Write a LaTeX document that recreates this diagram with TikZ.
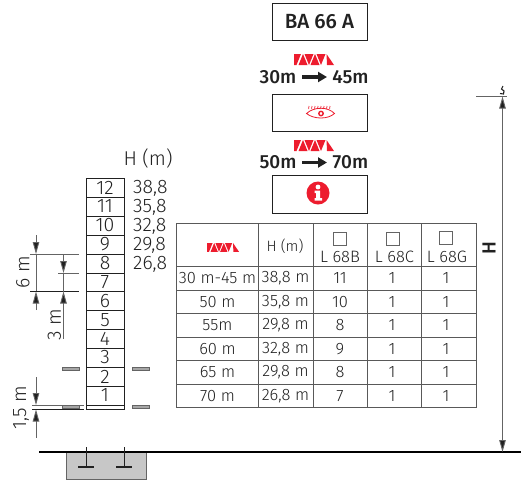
\documentclass[tikz,border=0pt]{standalone}
\usepackage{fontspec}
\setmainfont{Fira Sans Light}[BoldFont={Fira Sans Medium}]
\usetikzlibrary{arrows.meta}
\definecolor{ink}{gray}{0.13}
\definecolor{signred}{RGB}{237,28,46}
\tikzset{
  x=1pt,y=-1pt,
  plate/.style={draw=ink,line width=1pt,fill=white},
  grid/.style={draw=ink!75!white,line width=1pt},
  thin line/.style={draw=ink!70!white,line width=0.8pt},
  dim/.style={draw=ink!70!white,line width=0.9pt,-{Triangle[length=12pt,width=6.5pt,fill=ink]}},
  rung/.style={inner sep=0pt,font=\fontsize{19.5}{20}\selectfont,text=ink},
  cell/.style={inner sep=0pt,font=\fontsize{16.5}{17}\selectfont,text=ink},
  head/.style={inner sep=0pt,font=\fontsize{19}{19}\bfseries\selectfont,text=ink},
  bar/.style={draw=ink!70!white,fill=black!35,line width=0.8pt},
}
\newcommand{\zigzag}[3][1]{%
 \begin{scope}[shift={(#2,#3)},scale=#1]
  \fill[signred] (0,0)--(7,0)--(2.5,11)--(0,11)--cycle;
  \fill[signred] (9,0)--(13.5,11)--(4.5,11)--cycle;
  \fill[signred] (10.5,0)--(19.5,0)--(15,11)--cycle;
  \fill[signred] (21,0)--(25.5,11)--(16.5,11)--cycle;
  \fill[signred] (22.5,0)--(31.5,0)--(27,11)--cycle;
  \fill[signred] (32.5,0)--(40,11)--(33,11)--cycle;
 \end{scope}}
\newcommand{\squarebox}[2]{\draw[draw=ink!70!white,line width=0.8pt] (#1-6.5,#2-6.5) rectangle (#1+6.5,#2+6.5);}
\begin{document}
\begin{tikzpicture}
\useasboundingbox (0,0) rectangle (530,491);
% top plates
\node[plate,minimum width=95pt,minimum height=37pt,inner sep=0pt,font=\fontsize{20.5}{20}\bfseries\selectfont,text=ink] (ba) at (319.5,22) {BA 66 A};
\zigzag{294}{54}
\node[head] (a30) at (278,77) {30m};
\node[head] (a45) at (350.5,77) {45m};
\draw[ink,line width=3.8pt,-{Triangle[length=9pt,width=10pt]}] (302,77) coordinate (s1) -- (327,77) coordinate (e1);
\node[plate,minimum width=95pt,minimum height=37pt] (eye) at (319.5,112.5) {};
\begin{scope}[signred,line width=0.8pt]
 \draw (306.5,113.5) .. controls (314,106.5) and (328,106.5) .. (334.5,113.5) .. controls (328,119.5) and (314,119.5) .. (306.5,113.5) -- cycle;
 \draw[line width=1.4pt] (321,113.5) circle (2.2);
 \foreach \lx in {309,312,315,318,321,324,327,330} \draw[line width=0.7pt] (\lx,106) -- (\lx-0.4,109);
\end{scope}
\zigzag{294}{140}
\node[head] (a50) at (278,162.5) {50m};
\node[head] (a70) at (350.5,162.5) {70m};
\draw[ink,line width=3.8pt,-{Triangle[length=9pt,width=10pt]}] (302,162.5) coordinate (s2) -- (327,162.5) coordinate (e2);
\node[plate,minimum width=95pt,minimum height=38pt] (info) at (319.5,194) {};
\fill[signred] (318,193) circle (11.5);
\fill[white] (318,187) circle (2.4);
\fill[white] (314.5,190.5) -- (320.2,190.5) -- (320.2,198) -- (322,198) -- (322,200.5) -- (314.5,200.5) -- (314.5,198) -- (316,198) -- (316,193) -- (314.5,193) -- cycle;
% ladder
\node[rung,font=\fontsize{20}{20}\selectfont] (hm) at (148,158) {H (m)};
\foreach \n/\ya/\yb in {12/178/197,11/197/216,10/216/235,9/235/254,8/254/273,7/273/291.5,6/291.5/310.5,5/310.5/329.5,4/329.5/348,3/348/367,2/367/386,1/386/405}{
  \draw[draw=ink,line width=0.9pt,fill=white] (86,\ya) rectangle (124,\yb);
  \node[rung] (r\n) at (105,{(\ya+\yb)/2}) {\n};
}
\draw[draw=ink,line width=0.9pt] (86,405) rectangle (124,409.5);
\node[rung,anchor=west] (h1) at (133,188) {38,8};
\node[rung,anchor=west] (h2) at (133,207) {35,8};
\node[rung,anchor=west] (h3) at (133,226) {32,8};
\node[rung,anchor=west] (h4) at (133,245) {29,8};
\node[rung,anchor=west] (h5) at (133,264) {26,8};
% dimensions
\coordinate (d6t) at (36,235); \coordinate (d6a) at (36,254);
\coordinate (d6b) at (36,310); \coordinate (d6c) at (36,291.5);
\draw[dim] (d6t) -- (d6a);
\draw[dim] (d6b) -- (d6c);
\draw[thin line] (d6a) -- (36,291.5);
\draw[thin line] (30,254) -- (79,254);
\draw[draw=ink,line width=0.9pt] (30,291.5) -- (79,291.5);
\node[rung,rotate=90] (six) at (23,272.5) {6 m};
\coordinate (d3t) at (63.5,254); \coordinate (d3a) at (63.5,273);
\coordinate (d3b) at (63.5,338.5); \coordinate (d3c) at (63.5,291.5);
\draw[dim] (d3t) -- (d3a);
\draw[dim] (d3b) -- (d3c);
\draw[thin line] (d3a) -- (d3c);
\draw[thin line] (58,273) -- (79,273);
\node[rung,rotate=90] (three) at (54.5,325) {3 m};
\coordinate (d1t) at (36,377); \coordinate (d1a) at (36,405);
\coordinate (d1b) at (36,437.5); \coordinate (d1c) at (36,409.5);
\draw[dim] (d1t) -- (d1a);
\draw[dim] (d1b) -- (d1c);
\draw[thin line] (32,405) -- (84,405);
\draw[draw=ink,line width=0.9pt] (32,409.5) -- (84,409.5);
\node[rung,rotate=90] (onefive) at (21,408) {1,5 m};
% bars
\foreach \bx in {62,132}{
  \draw[bar] (\bx,367) rectangle (\bx+17,370);
  \draw[bar] (\bx,405.5) rectangle (\bx+17,408.5);
}
% foundation
\draw[draw=ink!70!white,fill=black!22,line width=0.9pt] (66,452) rectangle (146,479);
\draw[draw=black,line width=1.5pt] (39,452) -- (521,452);
\foreach \bx in {86,124}{
  \draw[draw=ink,line width=0.9pt] (\bx,447) -- (\bx,467);
  \draw[draw=ink,line width=1.2pt] (\bx-8,467) -- (\bx+8,467);
}
% table
\fill[white] (176,223) rectangle (476,407.5);
\foreach \tx in {176,258.5,313,367.5,421.5,476} \draw[grid] (\tx,223) -- (\tx,407.5);
\foreach \ty in {223,266,290,313.5,337,360.5,384,407.5} \draw[grid] (176,\ty) -- (476,\ty);
\zigzag[0.8]{207}{243}
\node[cell,font=\fontsize{15}{15}\selectfont] (th) at (285,246) {H (m)};
\squarebox{340}{239}\node[cell] (tb) at (340,256.5) {L 68B};
\squarebox{393}{239}\node[cell] (tc) at (394.5,256.5) {L 68C};
\squarebox{445.5}{238}\node[cell] (tg) at (447,256.5) {L 68G};
\foreach \ro/\y/\a/\b/\c in {1/278/{30 m-45 m}/{38,8 m}/11,2/302/{50 m}/{35,8 m}/10,3/325.5/{55m}/{29,8 m}/8,4/349/{60 m}/{32,8 m}/9,5/372.5/{65 m}/{29,8 m}/8,6/396/{70 m}/{26,8 m}/7}{
  \node[cell] (c\ro a) at (217.5,\y) {\a};
  \node[cell] (c\ro b) at (285.5,\y) {\b};
  \node[cell] (c\ro c) at (340,\y) {\c};
  \node[cell] (c\ro d) at (392,\y) {1};
  \node[cell] (c\ro e) at (446,\y) {1};
}
% height
\coordinate (ht) at (502.5,96.5); \coordinate (hb) at (502.5,452);
\draw[dim,{Triangle[length=12pt,width=6.5pt,fill=ink]}-{Triangle[length=12pt,width=6.5pt,fill=ink]}] (ht) -- (hb);
\draw[thin line] (476,96) -- (507,96);
\node[inner sep=0pt,rotate=90,font=\fontsize{19}{19}\bfseries\selectfont,text=ink] (hh) at (489,248) {H};
\draw[ink,line width=1.1pt] (503,86) -- (501.5,89) -- (504,91) -- (503.5,94) -- (500,93.5);
\end{tikzpicture}
\end{document}
